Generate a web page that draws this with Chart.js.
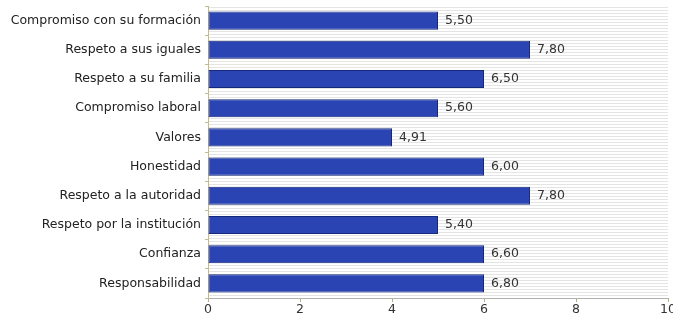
<!DOCTYPE html>
<html>
<head>
<meta charset="utf-8">
<script src="https://cdn.jsdelivr.net/npm/chart.js@4"></script>
<style>
  html, body { margin: 0; padding: 0; overflow: hidden; background: #fff; }
  #wrap { width: 676px; height: 317px; }
</style>
</head>
<body>
<div id="wrap"><canvas id="valoresChart" width="676" height="317"></canvas></div>
<script>
// categories, top to bottom
const categorias = [
    "Compromiso con su formación",
    "Respeto a sus iguales",
    "Respeto a su familia",
    "Compromiso laboral",
    "Valores",
    "Honestidad",
    "Respeto a la autoridad",
    "Respeto por la institución",
    "Confianza",
    "Responsabilidad"
];

// bar lengths as drawn in the picture
const valoresBarra = [5, 7, 6, 5, 4, 6, 7, 5, 6, 6];

// the numbers printed next to each bar
const etiquetasValor = ["5,50", "7,80", "6,50", "5,60", "4,91", "6,00", "7,80", "5,40", "6,60", "6,80"];

const ticksX = [0, 2, 4, 6, 8, 10];

// striped plot background
const fondoRayado = {
    id: "fondoRayado",
    beforeDraw(chart) {
        let ctx = chart.ctx;
        let a = chart.chartArea;
        ctx.save();
        ctx.fillStyle = "#ffffff";
        ctx.fillRect(a.left, a.top, a.right - a.left, a.bottom - a.top);
        ctx.fillStyle = "#e4e4e4";
        for (let y = a.top + 1; y < a.bottom; y += 3) {
            ctx.fillRect(a.left, y, a.right - a.left, 1);
        }
        ctx.restore();
    }
};

// value text at the end of each bar
const etiquetas = {
    id: "etiquetas",
    afterDatasetsDraw(chart) {
        let ctx = chart.ctx;
        let meta = chart.getDatasetMeta(0);
        ctx.save();
        ctx.font = "12.5px 'DejaVu Sans'";
        ctx.fillStyle = "#333333";
        ctx.textBaseline = "middle";
        meta.data.forEach((bar, i) => {
            ctx.fillText(etiquetasValor[i], bar.x + 7, bar.y);
        });
        ctx.restore();
    }
};

new Chart(document.getElementById("valoresChart").getContext("2d"), {
    type: "bar",
    data: {
        labels: categorias,
        datasets: [{
            data: valoresBarra,
            backgroundColor: "#2a44b3",
            borderColor: "#16287a",
            borderWidth: 1,
            borderSkipped: false,
            categoryPercentage: 1,
            barPercentage: 0.62
        }]
    },
    options: {
        indexAxis: "y",
        responsive: false,
        animation: false,
        layout: { padding: { top: 6, left: 0, right: 0, bottom: 0 } },
        plugins: {
            legend: { display: false },
            tooltip: { enabled: false }
        },
        scales: {
            x: {
                min: 0,
                max: 10,
                afterBuildTicks(scale) {
                    scale.ticks = ticksX.map(v => ({ value: v }));
                },
                grid: { drawOnChartArea: false, color: "#b8aa88", tickLength: 4 },
                border: { color: "#b0b0b0" },
                ticks: { color: "#333", font: { family: "DejaVu Sans", size: 12.5 }, padding: 0 }
            },
            y: {
                afterFit(scale) {
                    scale.width = 208;
                    scale.paddingTop = 0;
                    scale.paddingBottom = 0;
                },
                grid: { drawOnChartArea: false, offset: true, color: "#c8b890", tickLength: 3 },
                border: { color: "#c8b890" },
                ticks: { color: "#222", font: { family: "DejaVu Sans", size: 12.5 }, padding: 4 }
            }
        }
    },
    plugins: [fondoRayado, etiquetas]
});
</script>
</body>
</html>
